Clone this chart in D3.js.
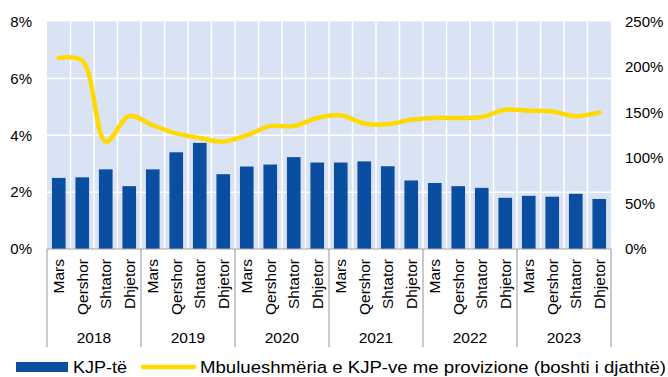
<!DOCTYPE html>
<html>
<head>
<meta charset="utf-8">
<script src="https://cdn.jsdelivr.net/npm/d3@7"></script>
<style>
  html, body { margin: 0; padding: 0; background: #fff; }
  svg { display: block; font-family: "Liberation Sans", Arial, sans-serif; }
</style>
</head>
<body>
<svg id="chart" width="668" height="377"></svg>
<script>
// Quarters and years on the category axis
const years = ["2018", "2019", "2020", "2021", "2022", "2023"];
const months = ["Mars", "Qershor", "Shtator", "Dhjetor"];

// KJP-të (left axis, %)
const kjp = [2.50, 2.52, 2.80, 2.21,
             2.80, 3.40, 3.73, 2.63,
             2.90, 2.97, 3.23, 3.04,
             3.04, 3.08, 2.91, 2.41,
             2.32, 2.21, 2.15, 1.80,
             1.87, 1.84, 1.94, 1.76];

// Mbulueshmëria e KJP-ve me provizione (right axis, %)
const coverage = [210, 207, 118, 146,
                  136, 127, 122, 118,
                  125, 135, 135, 144,
                  147, 138, 137, 142,
                  144, 144, 145, 153,
                  152, 151, 146, 150];

const leftTicks = [0, 2, 4, 6, 8];
const rightTicks = [0, 50, 100, 150, 200, 250];

const legendBars = "KJP-të";
const legendLine = "Mbulueshmëria e KJP-ve me provizione (boshti i djathtë)";

const categories = [];
years.forEach(y => months.forEach(m => categories.push(y + "|" + m)));

const svg = d3.select("#chart");
const plot = { left: 47, right: 611, top: 21.5, bottom: 249 };

const x = d3.scaleBand().domain(categories).range([plot.left, plot.right]).paddingInner(0.42).paddingOuter(0.21);
const xStep = (plot.right - plot.left) / categories.length;
const yL = d3.scaleLinear().domain([0, 8]).range([plot.bottom, plot.top]);
const yR = d3.scaleLinear().domain([0, 250]).range([plot.bottom, plot.top]);

// plot background
svg.append("rect")
  .attr("x", plot.left).attr("y", plot.top)
  .attr("width", plot.right - plot.left).attr("height", plot.bottom - plot.top)
  .attr("fill", "#dae3f3");

// horizontal grid
svg.append("g").selectAll("line").data(leftTicks.slice(1, -1)).join("line")
  .attr("x1", plot.left).attr("x2", plot.right)
  .attr("y1", d => yL(d)).attr("y2", d => yL(d))
  .attr("stroke", "#fff").attr("stroke-width", 1.5);

// vertical grid between categories
svg.append("g").selectAll("line").data(d3.range(1, categories.length)).join("line")
  .attr("x1", i => plot.left + i * xStep).attr("x2", i => plot.left + i * xStep)
  .attr("y1", plot.top).attr("y2", plot.bottom)
  .attr("stroke", "#fff").attr("stroke-width", 1.5);

// bars
svg.append("g").selectAll("rect").data(kjp).join("rect")
  .attr("x", (d, i) => x(categories[i]))
  .attr("width", x.bandwidth())
  .attr("y", d => yL(d))
  .attr("height", d => yL(0) - yL(d))
  .attr("fill", "#0a4ea2");

// coverage line
const line = d3.line()
  .x((d, i) => x(categories[i]) + x.bandwidth() / 2)
  .y(d => yR(d))
  .curve(d3.curveCatmullRom.alpha(0.5));

svg.append("path")
  .datum(coverage)
  .attr("d", line)
  .attr("fill", "none")
  .attr("stroke", "#ffda00")
  .attr("stroke-width", 4.5)
  .attr("stroke-linecap", "round")
  .attr("stroke-linejoin", "round");

// left axis labels
const axL = svg.append("g")
  .attr("transform", `translate(${plot.left - 15},0)`)
  .call(d3.axisLeft(yL).tickValues(leftTicks).tickSize(0).tickPadding(0).tickFormat(d => d + "%"));
axL.select(".domain").remove();
axL.selectAll("text").attr("font-size", 15).attr("fill", "#000")
  .attr("font-family", "'Liberation Sans', Arial, sans-serif");

// right axis labels
const axR = svg.append("g")
  .attr("transform", `translate(${plot.right + 14},0)`)
  .call(d3.axisRight(yR).tickValues(rightTicks).tickSize(0).tickPadding(0).tickFormat(d => d + "%"));
axR.select(".domain").remove();
axR.selectAll("text").attr("font-size", 15).attr("fill", "#000")
  .attr("font-family", "'Liberation Sans', Arial, sans-serif");

// category axis line and year separators
const axisColor = "#a6a6a6";
svg.append("line")
  .attr("x1", plot.left).attr("x2", plot.right)
  .attr("y1", plot.bottom).attr("y2", plot.bottom)
  .attr("stroke", axisColor).attr("stroke-width", 1.2);

svg.append("g").selectAll("line").data(d3.range(0, years.length + 1)).join("line")
  .attr("x1", i => plot.left + i * months.length * xStep)
  .attr("x2", i => plot.left + i * months.length * xStep)
  .attr("y1", plot.bottom).attr("y2", 347)
  .attr("stroke", axisColor).attr("stroke-width", 1.2);

// month labels
svg.append("g").selectAll("text").data(categories).join("text")
  .attr("transform", d => `translate(${x(d) + x.bandwidth() / 2},259) rotate(-90)`)
  .attr("text-anchor", "end")
  .attr("dy", "0.36em")
  .attr("font-size", 15.5)
  .attr("fill", "#000")
  .text(d => d.split("|")[1]);

// year labels
svg.append("g").selectAll("text").data(years).join("text")
  .attr("x", (d, i) => plot.left + (i + 0.5) * months.length * xStep)
  .attr("y", 343)
  .attr("text-anchor", "middle")
  .attr("font-size", 15.5)
  .attr("fill", "#000")
  .text(d => d);

// legend
const lg = svg.append("g");
lg.append("rect").attr("x", 16).attr("y", 362).attr("width", 52).attr("height", 10).attr("fill", "#0a4ea2");
lg.append("text").attr("x", 73).attr("y", 372.5).attr("font-size", 16)
  .attr("textLength", 54).attr("lengthAdjust", "spacingAndGlyphs").text(legendBars);
lg.append("line").attr("x1", 143).attr("x2", 194).attr("y1", 367).attr("y2", 367)
  .attr("stroke", "#ffda00").attr("stroke-width", 4.5).attr("stroke-linecap", "round");
lg.append("text").attr("x", 200).attr("y", 372.5).attr("font-size", 16)
  .attr("textLength", 466).attr("lengthAdjust", "spacingAndGlyphs").text(legendLine);
</script>
</body>
</html>
